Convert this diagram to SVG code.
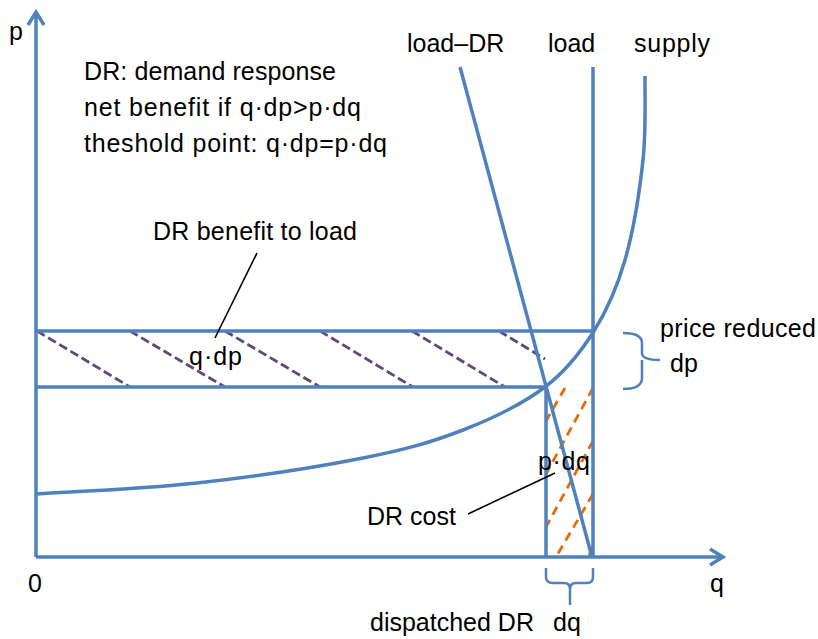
<svg xmlns="http://www.w3.org/2000/svg" width="818" height="639" viewBox="0 0 818 639">
<style>
.ax{fill:none;stroke:#4F81BD;stroke-width:3.5;stroke-linecap:butt}
.cv{fill:none;stroke:#4F81BD;stroke-width:3.5;stroke-linejoin:round}
.br{fill:none;stroke:#4F81BD;stroke-width:2.5}
.hp{fill:none;stroke:#5F497A;stroke-width:2.8;stroke-dasharray:9 4}
.ho{fill:none;stroke:#E46C0A;stroke-width:2.8;stroke-dasharray:9 6}
.ld{fill:none;stroke:#000;stroke-width:1.6}
text{font-family:"Liberation Sans",Arial,sans-serif;font-size:25px;fill:#000}
</style>
<rect width="818" height="639" fill="#fff"/>
<g id="hatching">
<path class="hp" d="M37,331 L130,387 M130,331 L225,387 M225,331 L320,387 M320,331 L413,387 M412,331 L505,387 M499,331 L545,359"/>
<path class="ho" d="M565,388 L546,421 M593,388 L546,474 M593,441 L546,527 M593,494 L556,557 M593,547 L588,557"/>
</g>
<g id="axes">
<path class="ax" d="M36,557 V13 M36,557 H722"/>
<path class="ax" d="M28,25 L36,12 L44,25"/>
<path class="ax" d="M710,549 L723,557 L710,565"/>
</g>
<g id="connectors">
<path class="cv" d="M36,331 H593 M36,387 H546"/>
<path class="cv" d="M593,67 V557"/>
<path class="cv" d="M546,387 V557"/>
<path class="cv" d="M460,67 L592,557"/>
<path class="cv" d="M36,494 C62.8,492.2 142.5,489 197,483 C251.5,477 318.7,466.8 363,458 C407.3,449.2 432.7,441.8 463,430 C493.3,418.2 523.2,403.5 545,387 C566.8,370.5 580.7,352.2 594,331 C607.3,309.8 616.8,288.5 625,260 C633.2,231.5 639.7,190.7 643,160 C646.3,129.3 644.7,90 645,76"/>
<path class="br" d="M623,333 Q642,333 642,343 V353 Q642,360 660,360 M642,360 Q642,360 642,367 V378 Q642,389 623,389"/>
<path class="br" d="M546,568 V577 Q546,583 553,583 H564 Q570,583 570,589 V605 M570,589 Q570,583 576,583 H587 Q593,583 593,577 V568"/>
<path class="ld" d="M257,253 L215,338"/>
<path class="ld" d="M468,514 L555,473"/>
</g>
<g id="labels">
<text x="9" y="40">p</text>
<text x="28" y="592">0</text>
<text x="710" y="592">q</text>
<text x="84" y="80" textLength="252">DR: demand response</text>
<text x="84" y="116" textLength="277">net benefit if q·dp&gt;p·dq</text>
<text x="84" y="152" textLength="303">theshold point: q·dp=p·dq</text>
<text x="407" y="52">load–DR</text>
<text x="548" y="52">load</text>
<text x="634" y="52" textLength="76">supply</text>
<text x="153" y="240" textLength="204">DR benefit to load</text>
<text x="189" y="365" textLength="53">q·dp</text>
<text x="538" y="470" textLength="52">p·dq</text>
<text x="367" y="525">DR cost</text>
<text x="660" y="337" textLength="156">price reduced</text>
<text x="670" y="372">dp</text>
<text x="370" y="631">dispatched DR</text>
<text x="553" y="631">dq</text>
</g>
</svg>
